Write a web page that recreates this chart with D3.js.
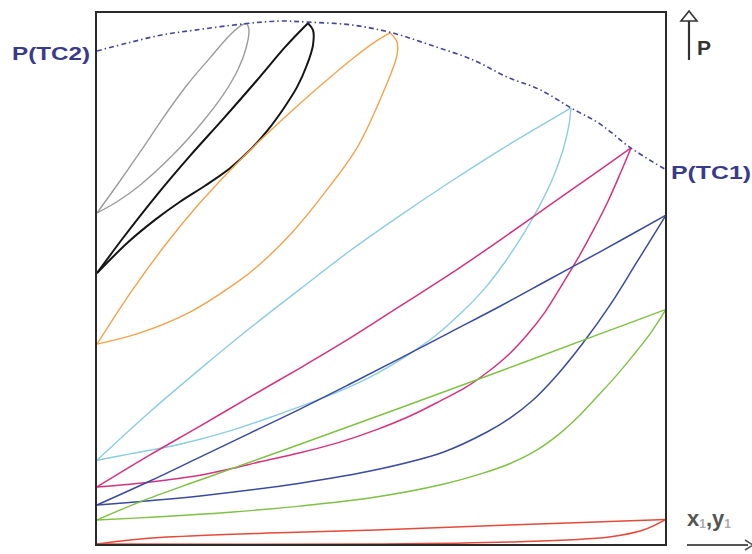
<!DOCTYPE html>
<html><head><meta charset="utf-8">
<script src="https://cdn.jsdelivr.net/npm/d3@7"></script>
<style>body{margin:0;background:#fff}svg{display:block}</style>
</head><body>
<svg id="c" width="752" height="554"></svg>
<script>
// composition x1 (0..1) and reduced pressure P (0..100)
const grayBubble = [[0,62.3],[0.0351,67.5],[0.0756,73.7],[0.116,80.1],[0.1582,86.3],[0.1986,91.4],[0.2337,95.7],[0.2548,97.6],[0.2636,97.9]];
const grayDew    = [[0.2636,97.9],[0.2671,96.6],[0.2619,93.2],[0.2478,89.2],[0.2214,84.4],[0.1810,78.8],[0.1336,73.2],[0.0756,67.5],[0.0351,64.4],[0,62.3]];
const blackBubble = [[0,51.0],[0.0457,57.6],[0.1054,65.7],[0.1634,73.0],[0.2214,79.9],[0.2812,87.2],[0.3304,93.4],[0.3568,96.4],[0.3708,97.9]];
const blackDew    = [[0.3708,97.9],[0.3796,96.6],[0.3796,93.8],[0.3691,90.1],[0.3515,85.9],[0.3286,82.0],[0.3005,77.9],[0.2689,74.1],[0.2337,70.7],[0.1898,67.4],[0.1459,64.4],[0.1019,61.0],[0.0545,56.8],[0,51.0]];
const orangeBubble = [[0,37.7],[0.0633,48.0],[0.1230,56.7],[0.1810,64.2],[0.2513,72.2],[0.3216,79.4],[0.3919,86.1],[0.4534,91.6],[0.4886,94.4],[0.5149,96.1]];
const orangeDew    = [[0.5149,96.1],[0.5272,94.4],[0.5272,91.9],[0.5026,84.8],[0.4569,74.5],[0.3972,65.7],[0.3392,58.2],[0.2812,52.2],[0.2513,49.7],[0.1634,43.7],[0.0756,39.8],[0,37.7]];
const cyanBubble = [[0,15.9],[0.0931,25.0],[0.1810,33.0],[0.2689,40.7],[0.3568,48.0],[0.4446,55.2],[0.5325,61.8],[0.6204,68.1],[0.7083,74.1],[0.7786,78.6],[0.8330,82.0]];
const cyanDew    = [[0.8330,82.0],[0.8295,78.8],[0.8190,74.1],[0.8014,68.9],[0.7786,63.8],[0.7504,58.5],[0.7170,53.1],[0.6819,48.2],[0.6415,43.7],[0.5940,39.2],[0.5413,35.3],[0.4798,31.5],[0.4095,28.1],[0.3216,24.6],[0.2337,21.4],[0.1459,18.9],[0.0580,17.1],[0,15.9]];
const magentaBubble = [[0,10.9],[0.0931,16.9],[0.1810,22.3],[0.2689,27.8],[0.3568,33.2],[0.4446,38.8],[0.5325,44.8],[0.6204,50.8],[0.7083,57.2],[0.7961,63.8],[0.8840,70.4],[0.9385,74.5]];
const magentaDew    = [[0.9385,74.5],[0.9192,69.6],[0.8981,64.5],[0.8735,59.3],[0.8453,53.8],[0.8172,48.8],[0.7873,43.7],[0.7557,39.4],[0.7241,35.8],[0.6872,32.5],[0.6485,29.6],[0.6028,27.0],[0.5501,24.2],[0.4903,21.6],[0.4271,19.3],[0.3568,17.3],[0.2865,15.6],[0.2390,14.4],[0.1810,13.1],[0.1230,12.2],[0.0580,11.4],[0,10.9]];
const blueBubble = [[0,7.5],[0.0931,12.0],[0.1810,16.5],[0.2689,21.0],[0.3568,25.5],[0.4446,30.2],[0.5325,35.0],[0.6204,39.9],[0.7083,44.8],[0.7961,49.9],[0.8840,55.0],[1,61.9]];
const blueDew    = [[0,7.5],[0.1810,9.2],[0.3568,11.6],[0.4903,14.1],[0.6081,17.4],[0.6854,21.2],[0.7258,23.8],[0.7663,27.2],[0.8102,32.1],[0.8541,37.9],[0.9016,45.0],[0.9490,53.1],[1,61.9]];
const greenBubble = [[0,4.7],[0.0756,8.1],[0.1810,12.2],[0.3568,18.9],[0.5325,25.7],[0.7083,32.6],[0.8840,39.6],[1,44.2]];
const greenDew    = [[0,4.7],[0.1107,5.3],[0.2390,6.2],[0.3568,7.3],[0.4903,9.0],[0.6081,11.4],[0.6731,13.3],[0.7241,15.2],[0.7698,17.6],[0.8120,20.8],[0.8489,24.4],[0.8805,28.0],[0.9104,31.5],[0.9402,35.3],[0.9719,39.6],[1,44.2]];
const redBubble = [[0,0.19],[0.058,0.94],[0.123,1.5],[0.299,2.25],[0.490,2.8],[0.724,3.75],[1,4.8]];
const redDew    = [[0,0.19],[0.490,0.19],[0.724,0.56],[0.900,1.5],[0.960,2.8],[1,4.8]];
const criticalLocus = [[0,92.7],[0.0545,94.2],[0.114,95.7],[0.172,96.6],[0.260,97.8],[0.322,98.3],[0.371,98.1],[0.445,97.6],[0.515,96.2],[0.586,93.8],[0.661,91.0],[0.721,87.8],[0.779,85.4],[0.833,82.0],[0.884,79.0],[0.938,74.5],[1,70.4]];

const loops = [
  {name:"gray", color:"#9b9b9b", w:1.4, parts:[grayBubble, grayDew]},
  {name:"black", color:"#151515", w:2.0, parts:[blackBubble, blackDew]},
  {name:"orange", color:"#f3a34a", w:1.4, parts:[orangeBubble, orangeDew]},
  {name:"cyan", color:"#8ccde0", w:1.4, parts:[cyanBubble, cyanDew]},
  {name:"magenta", color:"#d6337c", w:1.5, parts:[magentaBubble, magentaDew]},
  {name:"blue", color:"#3a4a9e", w:1.5, parts:[blueBubble, blueDew]},
  {name:"green", color:"#7fc143", w:1.4, parts:[greenBubble, greenDew]},
  {name:"red", color:"#e6493a", w:1.5, parts:[redBubble, redDew]}
];

const svg = d3.select("#c");
const x = d3.scaleLinear().domain([0,1]).range([97,666]);
const y = d3.scaleLinear().domain([0,100]).range([545,12]);
const line = d3.line().x(d=>x(d[0])).y(d=>y(d[1])).curve(d3.curveCatmullRom.alpha(0.5));

const g = svg.append("g");
loops.forEach(l => {
  l.parts.forEach(p => {
    g.append("path").attr("d", line(p)).attr("fill","none")
      .attr("stroke", l.color).attr("stroke-width", l.w).attr("stroke-linejoin","round");
  });
});

g.append("path").attr("d", line(criticalLocus)).attr("fill","none")
  .attr("stroke","#45459a").attr("stroke-width",1.6)
  .attr("stroke-dasharray","5 3 1.5 3");

// frame
svg.append("rect").attr("x",x(0)-1).attr("y",y(100)).attr("width",x(1)-x(0)+1).attr("height",y(0)-y(100))
  .attr("fill","none").attr("stroke","#2a2a2a").attr("stroke-width",2);

const font = "Liberation Sans, Arial, sans-serif";
// labels
svg.append("text").attr("x",12).attr("y",60).attr("font-family",font)
  .attr("font-weight","bold").attr("font-size",19).attr("fill","#3a3a8c")
  .attr("textLength",78).attr("lengthAdjust","spacingAndGlyphs").text("P(TC2)");
svg.append("text").attr("x",671).attr("y",179).attr("font-family",font)
  .attr("font-weight","bold").attr("font-size",19).attr("fill","#3a3a8c")
  .attr("textLength",80).attr("lengthAdjust","spacingAndGlyphs").text("P(TC1)");

// P arrow
svg.append("line").attr("x1",689).attr("x2",689).attr("y1",21).attr("y2",60).attr("stroke","#333").attr("stroke-width",2.2);
svg.append("path").attr("d","M689,11 L681,21 L697,21 Z").attr("fill","#fff").attr("stroke","#333").attr("stroke-width",1.6);
svg.append("text").attr("x",697).attr("y",55).attr("font-family",font)
  .attr("font-weight","bold").attr("font-size",21).attr("fill","#333").text("P");

// x1,y1 label
const xl = svg.append("text").attr("x",687).attr("y",526).attr("font-family",font)
  .attr("font-weight","bold").attr("font-size",22).attr("fill","#555");
xl.append("tspan").text("x");
xl.append("tspan").attr("font-size",12).attr("fill","#aaa").attr("dy",2).text("1");
xl.append("tspan").attr("dy",-2).text(",y");
xl.append("tspan").attr("font-size",12).attr("fill","#aaa").attr("dy",2).text("1");
svg.append("line").attr("x1",687).attr("x2",748).attr("y1",545).attr("y2",545).attr("stroke","#555").attr("stroke-width",2);
svg.append("path").attr("d","M745,540 L753,545 L745,550").attr("fill","none").attr("stroke","#555").attr("stroke-width",1.5);
</script>
</body></html>
